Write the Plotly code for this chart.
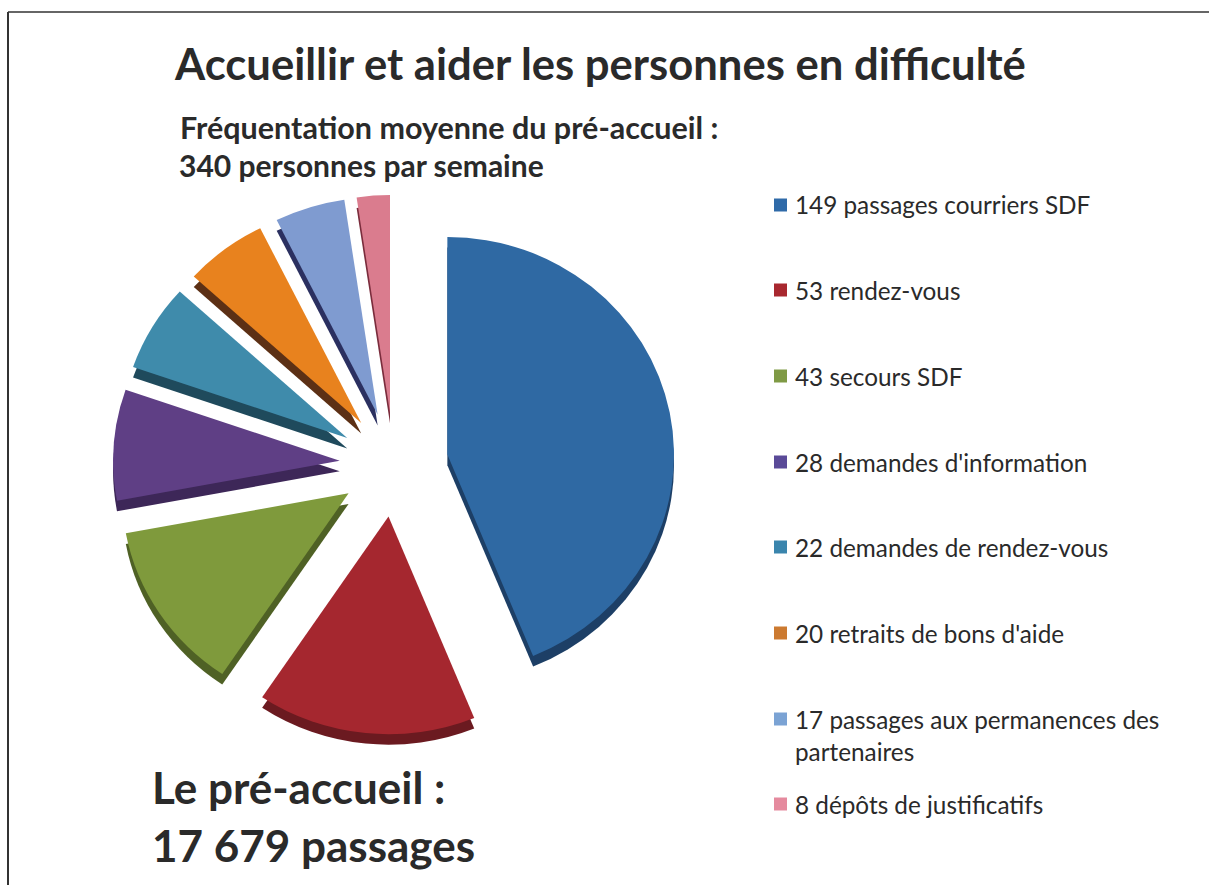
import plotly.graph_objects as go

labels = ["149 passages courriers SDF", "53 rendez-vous", "43 secours SDF", "28 demandes d'information",
          "22 demandes de rendez-vous", "20 retraits de bons d'aide",
          "17 passages aux permanences des<br>partenaires", "8 dépôts de justificatifs"]
values = [149, 53, 43, 28, 22, 20, 17, 8]
colors = ["#2f69a3", "#a5272f", "#7f9a3c", "#5f3f85", "#3f8bab", "#e8821e", "#7f9bd0", "#da7c8e"]
dark = ["#1d3f66", "#6b1a20", "#4f6125", "#3d2758", "#1f4a5c", "#5c3015", "#2b3060", "#7a2c3c"]
legend_colors = ["#2f6aa8", "#a8282f", "#7f9a45", "#5a4a98", "#3a85ad", "#cc7a30", "#7ba3d4", "#e58a9e"]
legend_y = [205, 290, 376, 462, 547, 633, 719, 804]
legend_text_y = [205, 290, 376, 462, 547, 633, 735, 804]
W, H = 1209, 885
FONT = "Lato"
INK = "#2a2a2a"

cx, cy, R = 394, 446, 281
DEPTH = 11
PULL = 0.24
SQUASH = 0.96
PIVOT = 912


def dom(dy):
    return dict(x=[(cx - R) / W, (cx + R) / W],
                y=[1 - (cy + dy + R) / H, 1 - (cy + dy - R) / H])


fig = go.Figure()
for cols, dy in ((dark, DEPTH), (colors, 0)):
    fig.add_trace(go.Pie(labels=labels, values=values, sort=False, direction="clockwise", rotation=0,
                         pull=[PULL] * len(values), marker=dict(colors=cols, line=dict(width=0)),
                         textinfo="none", hoverinfo="label+percent", showlegend=False, domain=dom(dy)))

shapes = [
    dict(type="line", xref="paper", yref="paper", x0=8 / W, x1=1, y0=1 - 12 / H, y1=1 - 12 / H,
         line=dict(color="#333333", width=1.5)),
    dict(type="line", xref="paper", yref="paper", x0=8 / W, x1=8 / W, y0=1 - 12 / H, y1=0,
         line=dict(color="#333333", width=2)),
]
annotations = []


def text(s, x, y, size, bold=False, anchor="left"):
    annotations.append(dict(text=f"<b>{s}</b>" if bold else s, xref="paper", yref="paper", x=x / W, y=1 - y / H,
                            xanchor=anchor, yanchor="middle", showarrow=False, align="left",
                            font=dict(family=FONT, size=size, color=INK)))


for lab, c, ly, ty in zip(labels, legend_colors, legend_y, legend_text_y):
    shapes.append(dict(type="rect", xref="paper", yref="paper", x0=774 / W, x1=787 / W,
                       y0=1 - (ly + 6.5) / H, y1=1 - (ly - 6.5) / H, fillcolor=c, line=dict(width=0)))
    text(lab, 793, ty, 24.3)

text("Accueillir et aider les personnes en difficulté", 600, 63, 43.6, True, "center")
text("Fréquentation moyenne du pré-accueil :", 178, 127, 30.5, True)
text("340 personnes par semaine", 177, 165, 30, True)
text("Le pré-accueil :", 150, 787, 44, True)
text("17 679 passages", 150, 845, 44, True)

fig.update_layout(width=W, height=H, margin=dict(l=0, r=0, t=0, b=0), paper_bgcolor="white",
                  shapes=shapes, annotations=annotations, font=dict(family=FONT))
squash_js = (
    "document.body.style.margin='0';"
    "document.querySelectorAll('.pielayer').forEach(function(g){"
    f"g.setAttribute('transform','translate(0,{PIVOT * (1 - SQUASH)}) scale(1,{SQUASH})');}});"
)
fig.write_html("out.html", post_script=squash_js, config={"displayModeBar": False})
